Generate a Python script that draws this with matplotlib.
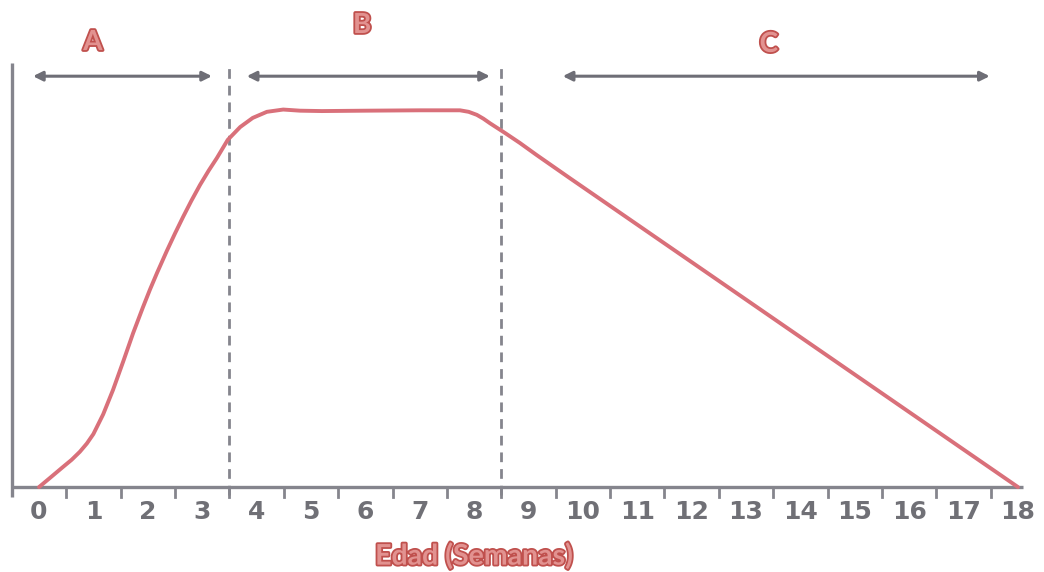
import numpy as np
import matplotlib.pyplot as plt
import matplotlib.patheffects as pe

# curve (weeks, relative level)
weeks = [0, 0.2, 0.44, 0.6, 0.75, 0.88, 1.0, 1.18, 1.36, 1.55, 1.73, 1.91, 2.04,
         2.17, 2.35, 2.5, 2.65, 2.8, 2.96, 3.12, 3.27, 3.47, 3.7, 3.93, 4.19,
         4.49, 4.8, 5.2, 6.0, 7.0, 7.74, 7.9, 8.05, 8.17, 8.29, 8.43, 8.57,
         8.84, 9.15, 9.76, 18.0]
level = [0, 2.4, 5.3, 7.2, 9.3, 11.5, 14.0, 19.2, 25.6, 33.2, 40.6, 47.4, 52.1,
         56.5, 62.3, 66.9, 71.3, 75.5, 79.7, 83.5, 86.8, 91.6, 95.0, 97.4, 99.0,
         99.6, 99.3, 99.2, 99.3, 99.4, 99.4, 99.0, 98.2, 97.2, 96.0, 94.7, 93.4,
         90.8, 87.6, 81.5, 0]

tick_labels = [str(i) for i in range(19)]
phase_bounds = [3.5, 8.5]
phase_names = ['A', 'B', 'C']
phase_arrows = [(-0.11, 3.18), (3.82, 8.29), (9.63, 17.48)]
phase_label_pos = [(0.99, 117.4), (5.94, 121.9), (13.42, 116.9)]

grey = '#85858d'
red = '#c0504d'
curve_col = '#d9707a'

fig = plt.figure(figsize=(10.44, 5.72), dpi=100)
ax = fig.add_axes([0, 0, 1, 1])
ax.set_xlim(-0.717, 18.478)
ax.set_ylim(-22.4, 128.5)
ax.axis('off')

# axes lines
ax.plot([-0.5, 18.1], [0, 0], color=grey, lw=2.4, solid_capstyle='butt')
ax.plot([-0.5, -0.5], [-2.6, 112], color=grey, lw=2.4, solid_capstyle='butt')
for t in np.arange(0.5, 18, 1.0):
    ax.plot([t, t], [0, -2.6], color=grey, lw=2)

# phase separators
for b in phase_bounds:
    ax.plot([b, b], [-2.2, 112.1], color=grey, lw=2, ls=(0, (3.5, 2.5)))

# curve
ax.plot(weeks, level, color=curve_col, lw=2.8, solid_capstyle='round',
        solid_joinstyle='round')

# tick labels
for i, lab in enumerate(tick_labels):
    ax.text(i, -6.6, lab, ha='center', va='center', fontsize=18, fontweight='bold',
            color='#707076', family='DejaVu Sans')

# phase arrows and letters
for (x0, x1), name, (lx, ly) in zip(phase_arrows, phase_names, phase_label_pos):
    ax.annotate('', xy=(x1, 108.4), xytext=(x0, 108.4),
                arrowprops=dict(arrowstyle='<|-|>', color='#6e6e76', lw=2.2,
                                mutation_scale=14, shrinkA=0, shrinkB=0))
    ax.text(lx, ly, name, ha='center', va='center', fontsize=20, fontweight='bold',
            color='#e29290', family='Lato',
            path_effects=[pe.withStroke(linewidth=2.6, foreground=red)])

ax.text(8.0, -18.2, 'Edad (Semanas)', ha='center', va='center', fontsize=20.5,
        fontweight='bold', color='#e29290', family='Lato',
        path_effects=[pe.withStroke(linewidth=2.6, foreground=red)])

fig.savefig('out.png', dpi=100)
